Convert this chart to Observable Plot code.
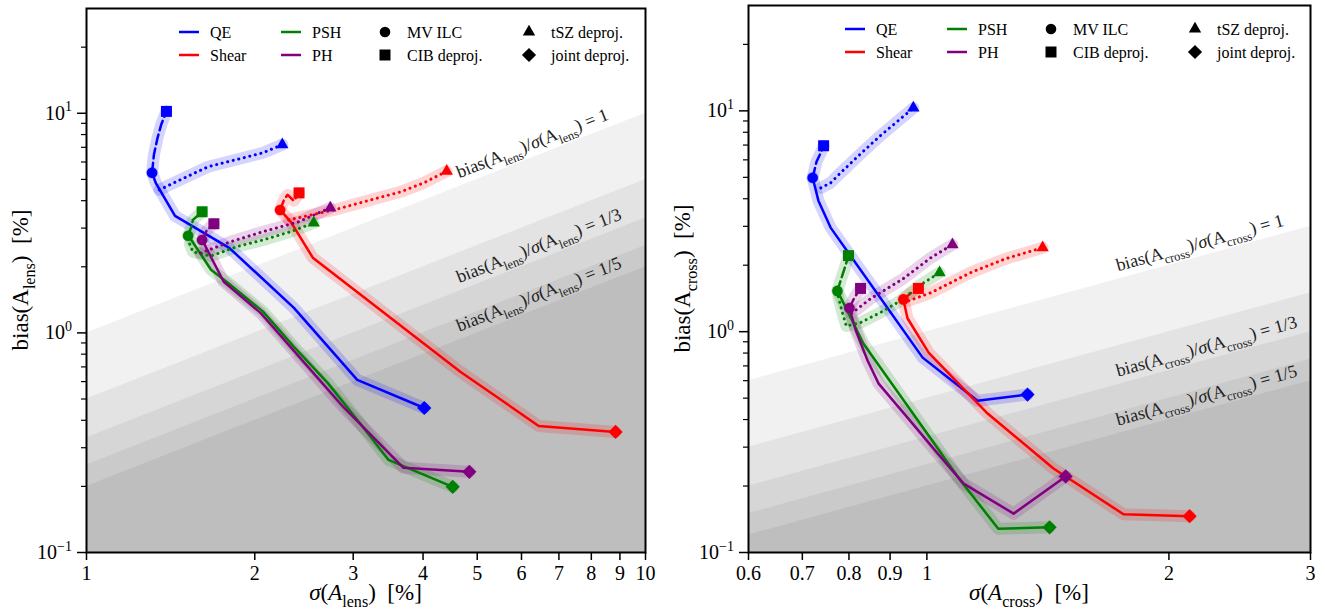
<!DOCTYPE html>
<html><head><meta charset="utf-8">
<script src="https://cdn.jsdelivr.net/npm/d3@7"></script>
<script src="https://cdn.jsdelivr.net/npm/@observablehq/plot@0.6"></script>
<style>
body{margin:0;background:#fff;}
#row{display:flex;width:1325px;height:613px;}
</style></head><body><div id="row"></div>
<script>
// ---------------- data ----------------
const estimators = ["QE", "Shear", "PSH", "PH"];
const colors = ["#0000ff", "#ff0000", "#008000", "#800080"];
const variants = ["joint", "CIB", "tSZ"];            // solid, dashed, dotted
const markerNames = ["MV ILC", "CIB deproj.", "tSZ deproj.", "joint deproj."];
const ratios = [1, 1/2, 1/3, 1/4, 1/5];               // shaded bias/sigma bands
const labeledRatios = [1, 1/3, 1/5];
const labeledRatioText = ["1", "1/3", "1/5"];
const yDomain = [0.1, 30];
const yMajor = [0.1, 1, 10];
const yMajorExp = ["\u22121", "0", "1"];
const yMinor = [0.2,0.3,0.4,0.5,0.6,0.7,0.8,0.9,2,3,4,5,6,7,8,9,20];
const lensXTicks = [1,2,3,4,5,6,7,8,9,10];
const crossXTicks = [0.6,0.7,0.8,0.9,1,2,3];

// lensing auto-spectrum panel: [sigma(A_lens) %, bias(A_lens) %]
const lens_QE_joint = [[1.31,5.36],[1.33,4.82],[1.44,3.41],[1.80,2.44],[2.35,1.30],[3.05,0.611],[4.02,0.455]];
const lens_QE_CIB   = [[1.31,5.36],[1.32,6.47],[1.34,7.73],[1.36,8.86],[1.39,10.2]];
const lens_QE_tSZ   = [[1.35,4.48],[1.41,4.73],[1.65,5.71],[1.91,6.27],[2.07,6.61],[2.24,7.2]];
const lens_Shear_joint = [[2.22,3.63],[2.32,3.20],[2.54,2.20],[4.67,0.664],[6.44,0.377],[8.84,0.354]];
const lens_Shear_CIB   = [[2.22,3.63],[2.26,4.08],[2.29,4.25],[2.35,3.99],[2.40,4.34]];
const lens_Shear_tSZ   = [[2.30,3.27],[2.77,3.63],[3.13,3.95],[3.65,4.39],[4.01,4.82],[4.41,5.45]];
const lens_PSH_joint = [[1.52,2.77],[1.54,2.65],[1.67,1.94],[1.79,1.69],[2.07,1.25],[2.35,0.863],[2.70,0.592],[3.05,0.402],[3.47,0.264],[4.52,0.199]];
const lens_PSH_CIB   = [[1.52,2.77],[1.54,3.04],[1.55,3.27],[1.61,3.56]];
const lens_PSH_tSZ   = [[1.53,2.54],[1.55,2.34],[1.67,2.24],[1.86,2.47],[2.07,2.65],[2.32,2.89],[2.55,3.17]];
const lens_PH_joint = [[1.61,2.65],[1.76,1.71],[2.05,1.23],[2.49,0.700],[2.88,0.460],[3.69,0.243],[4.84,0.233]];
const lens_PH_CIB   = [[1.61,2.65],[1.64,2.92],[1.69,3.14]];
const lens_PH_tSZ   = [[1.60,2.31],[1.81,2.60],[2.07,2.89],[2.39,3.20],[2.73,3.71]];

// cross-correlation panel: [sigma(A_cross) %, bias(A_cross) %]
const cross_QE_joint = [[0.721,4.98],[0.733,3.92],[0.759,2.96],[0.988,0.763],[1.156,0.487],[1.334,0.519]];
const cross_QE_CIB   = [[0.721,4.98],[0.729,5.88],[0.738,6.46],[0.744,6.95]];
const cross_QE_tSZ   = [[0.738,4.48],[0.759,4.72],[0.781,5.24],[0.827,6.39],[0.875,7.71],[0.927,9.20],[0.962,10.3]];
const cross_Shear_joint = [[0.935,1.40],[0.946,1.15],[1.005,0.803],[1.190,0.426],[1.437,0.240],[1.756,0.149],[2.122,0.146]];
const cross_Shear_CIB   = [[0.935,1.40],[0.954,1.49],[0.976,1.57]];
const cross_Shear_tSZ   = [[0.949,1.38],[1.011,1.50],[1.133,1.85],[1.253,2.14],[1.393,2.40]];
const cross_PSH_joint = [[0.774,1.53],[0.785,1.38],[0.834,0.882],[1.101,0.212],[1.227,0.128],[1.421,0.130]];
const cross_PSH_CIB   = [[0.774,1.53],[0.781,1.70],[0.792,1.99],[0.799,2.21]];
const cross_PSH_tSZ   = [[0.776,1.44],[0.785,1.22],[0.794,1.06],[0.827,1.10],[0.875,1.22],[0.927,1.38],[0.982,1.63],[1.037,1.85]];
const cross_PH_joint = [[0.801,1.28],[0.816,1.01],[0.844,0.739],[0.871,0.582],[0.946,0.408],[1.031,0.281],[1.111,0.205],[1.282,0.150],[1.488,0.221]];
const cross_PH_CIB   = [[0.801,1.28],[0.813,1.43],[0.827,1.57]];
const cross_PH_tSZ   = [[0.806,1.21],[0.851,1.41],[0.935,1.74],[1.011,2.16],[1.076,2.48]];

const DATA = {
  lens: {
    QE: {joint: lens_QE_joint, CIB: lens_QE_CIB, tSZ: lens_QE_tSZ},
    Shear: {joint: lens_Shear_joint, CIB: lens_Shear_CIB, tSZ: lens_Shear_tSZ},
    PSH: {joint: lens_PSH_joint, CIB: lens_PSH_CIB, tSZ: lens_PSH_tSZ},
    PH: {joint: lens_PH_joint, CIB: lens_PH_CIB, tSZ: lens_PH_tSZ}
  },
  cross: {
    QE: {joint: cross_QE_joint, CIB: cross_QE_CIB, tSZ: cross_QE_tSZ},
    Shear: {joint: cross_Shear_joint, CIB: cross_Shear_CIB, tSZ: cross_Shear_tSZ},
    PSH: {joint: cross_PSH_joint, CIB: cross_PSH_CIB, tSZ: cross_PSH_tSZ},
    PH: {joint: cross_PH_joint, CIB: cross_PH_CIB, tSZ: cross_PH_tSZ}
  }
};

// ---------------- drawing ----------------
const FONT = "'Liberation Serif', 'DejaVu Serif', serif";
const SYM = [d3.symbolCircle, d3.symbolSquare, d3.symbolTriangle, d3.symbolDiamond2];
const SYM_R = [5.3, 6.2, 4.6, 6.4];
const H = 613, MB = 61;

const panels = [
  {key: "lens", sub: "lens", xDomain: [1, 10], xTicks: lensXTicks, width: 662, marginTop: 8, marginRight: 17, legendX: 179, labelX: 4.7},
  {key: "cross", sub: "cross", xDomain: [0.6, 3], xTicks: crossXTicks, width: 663, marginTop: 5, marginRight: 15, legendX: 183, labelX: 1.74}
];

function appendMath(text, parts, fs) {
  let shift = 0;
  for (const p of parts) {
    const target = p.sub ? fs * 0.3 : p.sup ? -fs * 0.42 : 0;
    const ts = text.append("tspan").text(p.t).attr("dy", target - shift);
    if (p.sub || p.sup) ts.attr("font-size", fs * 0.7);
    if (p.it) ts.attr("font-style", "italic");
    shift = target;
  }
}

function makePanel(cfg) {
  const P = DATA[cfg.key];
  const rows = [], markers = [];
  estimators.forEach(est => {
    variants.forEach(v => P[est][v].forEach(([x, y]) => rows.push({est, v, x, y, id: est + "-" + v})));
    const j = P[est].joint, c = P[est].CIB, t = P[est].tSZ;
    const ends = [j[0], c[c.length - 1], t[t.length - 1], j[j.length - 1]];
    ends.forEach(([x, y], k) => markers.push({est, k, x, y}));
  });
  const lineOpts = {x: "x", y: "y", z: "id", stroke: "est", strokeWidth: 2.5};
  const plot = Plot.plot({
    width: cfg.width, height: H,
    marginLeft: 86, marginRight: cfg.marginRight, marginTop: cfg.marginTop, marginBottom: MB,
    style: {fontFamily: FONT, background: "white", overflow: "visible", color: "black"},
    x: {type: "log", domain: cfg.xDomain, label: null},
    y: {type: "log", domain: yDomain, label: null},
    color: {domain: estimators, range: colors},
    marks: [
      ...ratios.map(r => Plot.areaY(cfg.xDomain.map(x => ({x, y: r * x})),
        {x: "x", y1: yDomain[0], y2: "y", fill: "black", fillOpacity: 0.055, clip: true})),
      Plot.line(rows, {x: "x", y: "y", z: "id", stroke: "est", strokeWidth: 12, strokeOpacity: 0.17, strokeLinejoin: "round"}),
      Plot.line(rows.filter(d => d.v === "joint"), lineOpts),
      Plot.line(rows.filter(d => d.v === "CIB"), {...lineOpts, strokeDasharray: "10,4.4"}),
      Plot.line(rows.filter(d => d.v === "tSZ"), {...lineOpts, strokeWidth: 3, strokeLinecap: "round", strokeDasharray: "0.1,5.6"}),
      ...SYM.map((s, k) => Plot.dot(markers.filter(d => d.k === k),
        {x: "x", y: "y", fill: "est", stroke: "none", symbol: s, r: SYM_R[k]})),
      Plot.frame({stroke: "black", strokeWidth: 2}),
      Plot.axisX({ticks: cfg.xTicks, tickFormat: d => d3.format("~g")(d), tickSize: 8, tickPadding: 5, fontSize: 20, strokeWidth: 1.5, label: null}),
      Plot.axisY({ticks: yMajor, tickFormat: () => "", tickSize: 9, strokeWidth: 1.5, label: null}),
      Plot.axisY({ticks: yMinor, tickFormat: () => "", tickSize: 5, strokeWidth: 1.2, label: null})
    ]
  });

  const sx = plot.scale("x"), sy = plot.scale("y");
  const svg = d3.select(plot);
  const g = svg.append("g").attr("font-family", FONT).attr("fill", "black").attr("text-anchor", "start");
  const left = 86, right = cfg.width - cfg.marginRight, bottom = H - MB;

  // y tick labels 10^k
  yMajor.forEach((v, i) => {
    const t = g.append("text").attr("x", left - 14).attr("y", sy.apply(v) + 7)
      .attr("text-anchor", "end").attr("font-size", 20);
    appendMath(t, [{t: "10"}, {t: yMajorExp[i], sup: true}], 20);
  });

  // axis labels
  const xl = g.append("text").attr("x", (left + right) / 2).attr("y", 600)
    .attr("text-anchor", "middle").attr("font-size", 23);
  appendMath(xl, [{t: "\u03c3", it: true}, {t: "("}, {t: "A", it: true}, {t: cfg.sub, sub: true}, {t: ")\u00a0\u00a0[%]"}], 23);
  const yl = g.append("text").attr("transform", `translate(${left - 58},${(cfg.marginTop + bottom) / 2}) rotate(-90)`)
    .attr("text-anchor", "middle").attr("font-size", 23);
  appendMath(yl, [{t: "bias("}, {t: "A"}, {t: cfg.sub, sub: true}, {t: ")\u00a0\u00a0[%]"}], 23);

  // ratio labels along the bands
  const [xa, xb] = cfg.xDomain;
  labeledRatios.forEach((r, i) => {
    const ang = Math.atan2(sy.apply(r * xb) - sy.apply(r * xa), sx.apply(xb) - sx.apply(xa)) * 180 / Math.PI;
    const t = g.append("text")
      .attr("transform", `translate(${sx.apply(cfg.labelX)},${sy.apply(r * cfg.labelX)}) rotate(${ang})`)
      .attr("x", 0).attr("y", -7).attr("font-size", 18).attr("fill", "#222").attr("text-anchor", "start");
    appendMath(t, [{t: "bias("}, {t: "A"}, {t: cfg.sub, sub: true}, {t: ")/"}, {t: "\u03c3", it: true}, {t: "("}, {t: "A"}, {t: cfg.sub, sub: true}, {t: ") = " + labeledRatioText[i]}], 18);
  });

  // legend
  const lg = g.append("g").attr("font-size", 16).attr("text-anchor", "start");
  const rowY = [cfg.marginTop + 24, cfg.marginTop + 47];
  estimators.forEach((est, i) => {
    const col = Math.floor(i / 2), row = i % 2;
    const x0 = cfg.legendX + col * 102;
    lg.append("line").attr("x1", x0).attr("x2", x0 + 20).attr("y1", rowY[row]).attr("y2", rowY[row])
      .attr("stroke", colors[i]).attr("stroke-width", 2.5);
    lg.append("text").attr("x", x0 + 31).attr("y", rowY[row]).attr("dy", "0.35em").text(est);
  });
  markerNames.forEach((name, k) => {
    const col = Math.floor(k / 2), row = k % 2;
    const cx = cfg.legendX + 206 + col * 144;
    lg.append("path").attr("transform", `translate(${cx},${rowY[row]})`)
      .attr("d", d3.symbol(SYM[k], Math.PI * SYM_R[k] * SYM_R[k])()).attr("fill", "black");
    lg.append("text").attr("x", cx + 22).attr("y", rowY[row]).attr("dy", "0.35em").text(name);
  });
  return plot;
}

const row = document.getElementById("row");
panels.forEach(cfg => row.appendChild(makePanel(cfg)));
</script></body></html>
